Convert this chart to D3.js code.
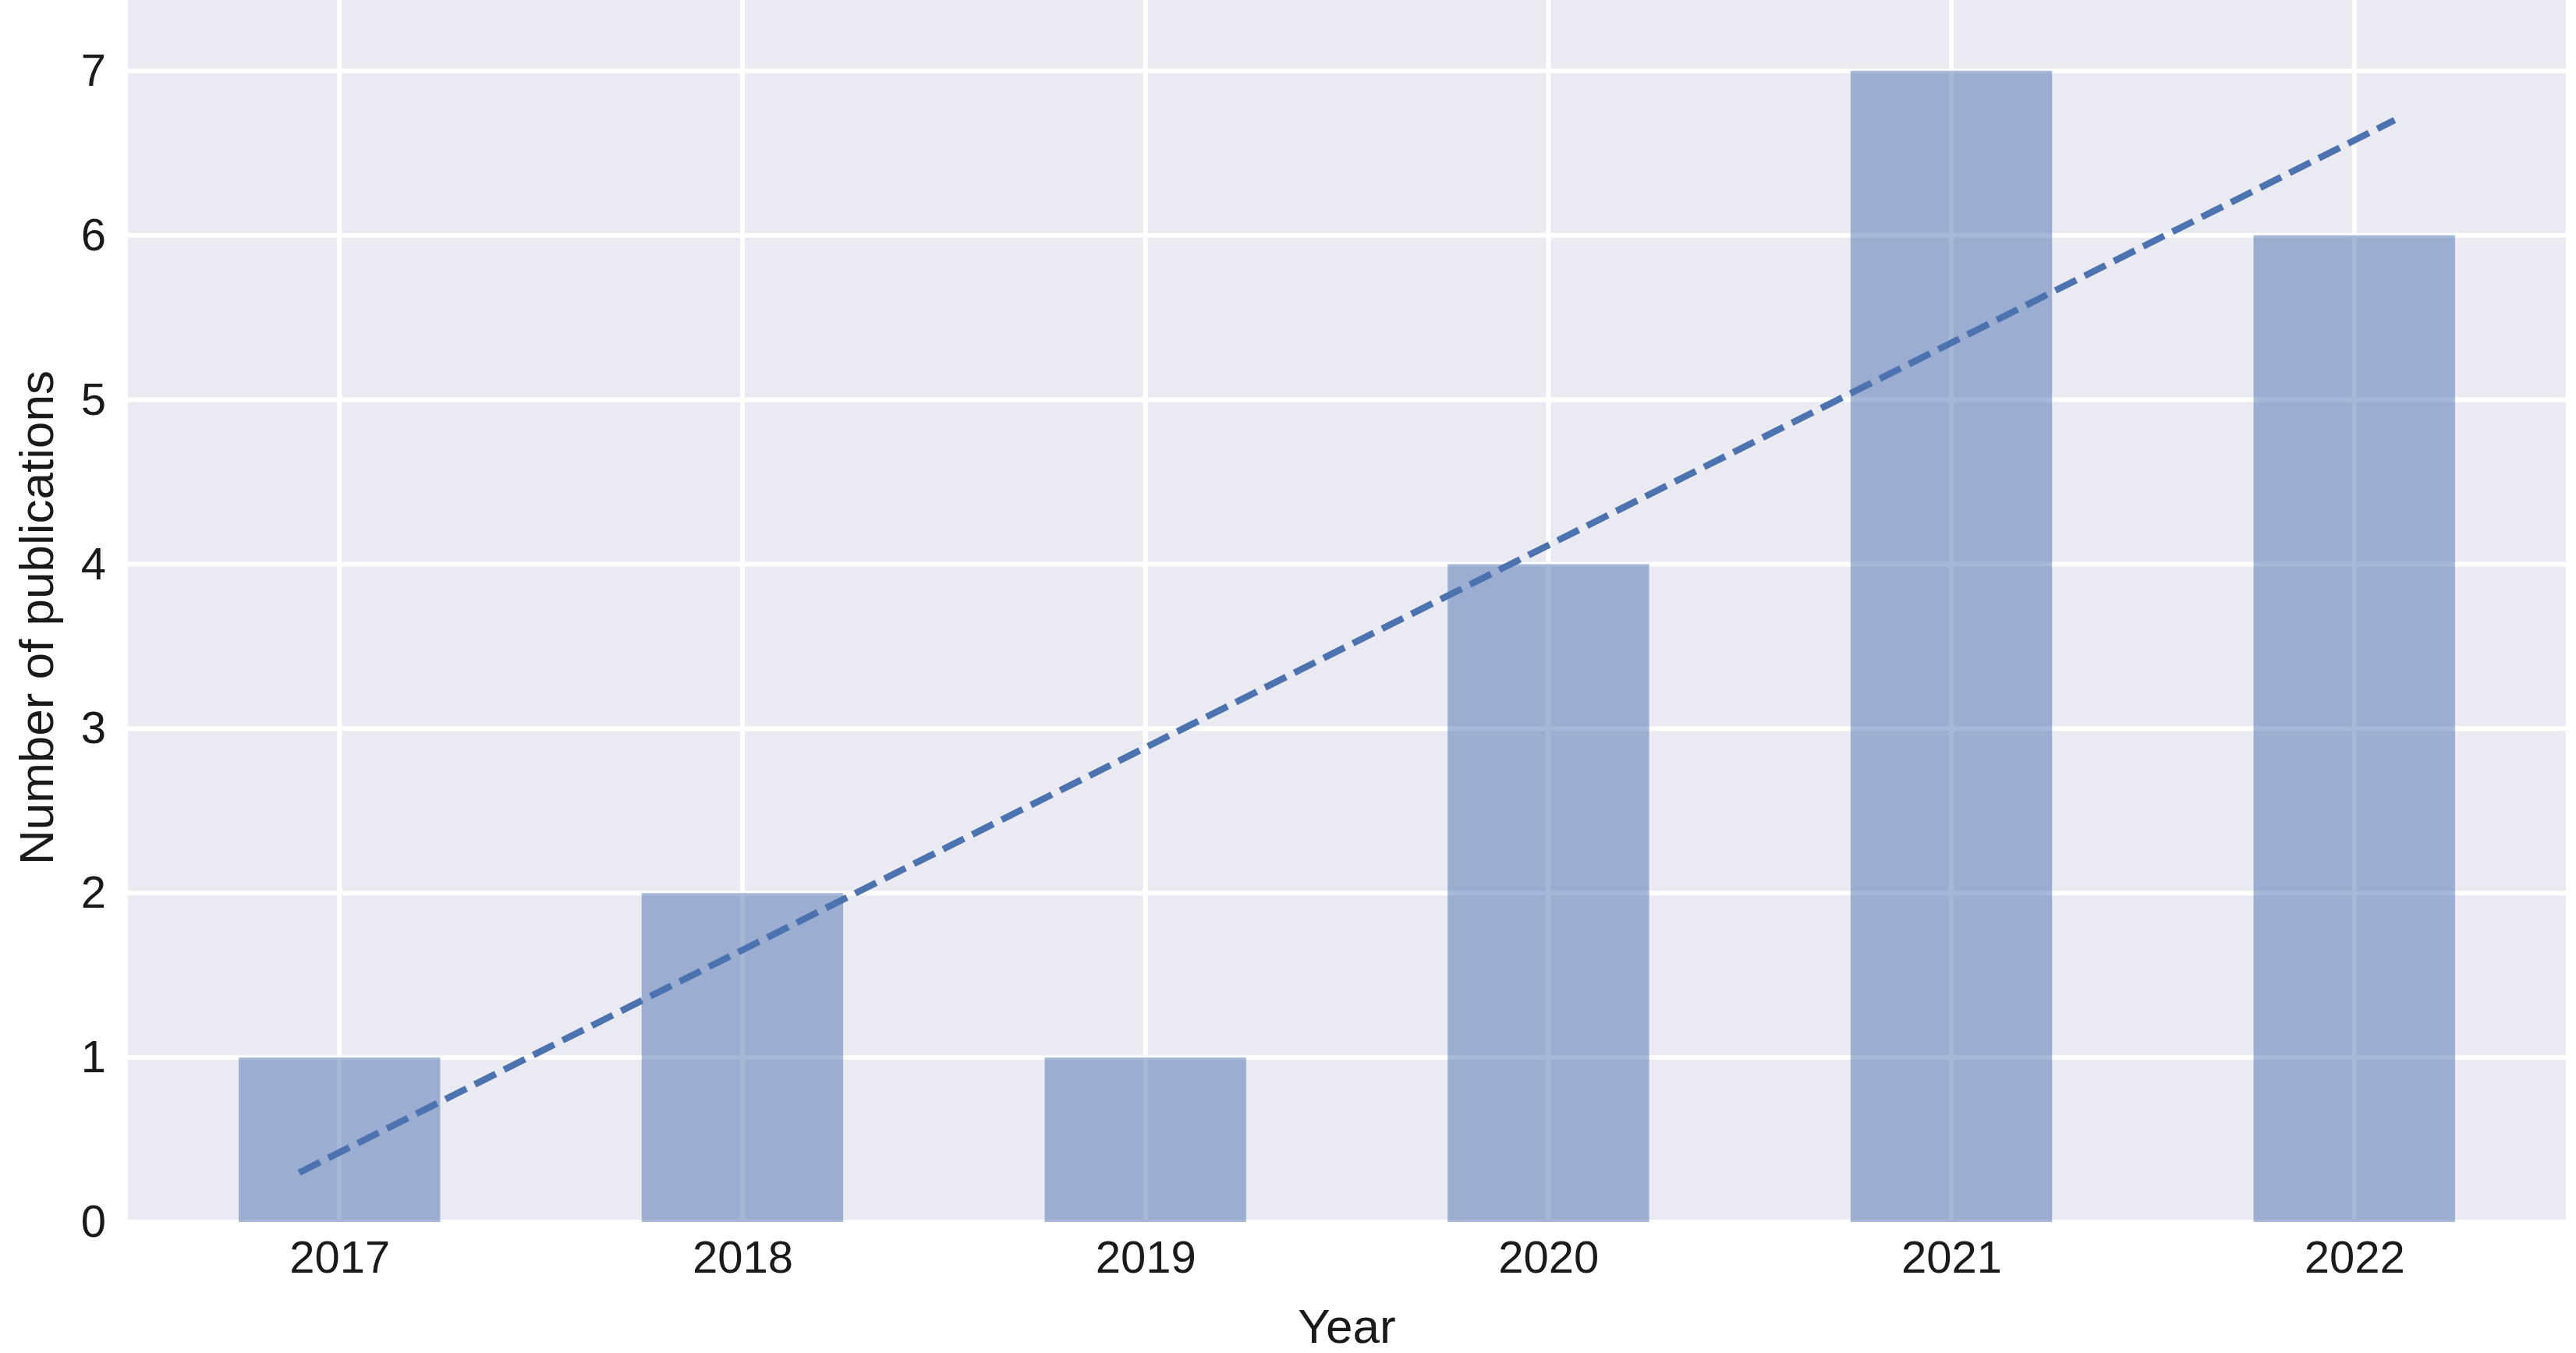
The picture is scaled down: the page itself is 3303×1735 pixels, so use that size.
<!DOCTYPE html>
<html>
<head>
<meta charset="utf-8">
<script src="https://cdn.jsdelivr.net/npm/d3@7"></script>
<style>
  body { margin: 0; background: #fff; }
  text { font-family: "Liberation Sans", Arial, sans-serif; fill: #1a1a1a; }
</style>
</head>
<body>
<div id="chart"></div>
<script>
// data
const years = [2017, 2018, 2019, 2020, 2021, 2022];
const counts = [1, 2, 1, 4, 7, 6];
const yTicks = [0, 1, 2, 3, 4, 5, 6, 7];
// dashed trend line end points
const trendX = [2016.9, 2022.1];
const trendY = [0.3, 6.7];

const W = 3303, H = 1735;
const margin = {top: 17, right: 13, bottom: 168, left: 164};
const width = W - margin.left - margin.right,
      height = H - margin.top - margin.bottom;

const svg = d3.select("#chart").append("svg")
  .attr("width", W).attr("height", H);
const g = svg.append("g")
  .attr("transform", "translate(" + margin.left + "," + margin.top + ")");

let x = d3.scaleLinear().domain([2016.475, 2022.525]).range([0, width]);
let y = d3.scaleLinear().domain([0, 7.35]).range([height, 0]);

g.append("rect").attr("y", -margin.top).attr("width", width).attr("height", height + margin.top).attr("fill", "#eaeaf2");

// grid
g.selectAll(".gy").data(yTicks).enter().append("line")
  .attr("x1", 0).attr("x2", width)
  .attr("y1", d => y(d)).attr("y2", d => y(d))
  .attr("stroke", "#fff").attr("stroke-width", 6);
g.selectAll(".gx").data(years).enter().append("line")
  .attr("y1", -margin.top).attr("y2", height)
  .attr("x1", d => x(d)).attr("x2", d => x(d))
  .attr("stroke", "#fff").attr("stroke-width", 6);

// bars
g.selectAll(".bar").data(years).enter().append("rect")
  .attr("x", d => x(d - 0.25))
  .attr("width", x(2017.5) - x(2017))
  .attr("y", (d, i) => y(counts[i]))
  .attr("height", (d, i) => height - y(counts[i]))
  .attr("fill", "#4c72b0").attr("fill-opacity", 0.5);

// trend
g.append("path")
  .datum(trendX.map((d, i) => [d, trendY[i]]))
  .attr("d", d3.line().x(d => x(d[0])).y(d => y(d[1])))
  .attr("fill", "none").attr("stroke", "#4c72b0")
  .attr("stroke-width", 8.5).attr("stroke-dasharray", "30,12");

// axes
g.append("g").attr("transform", "translate(0," + height + ")")
  .call(d3.axisBottom(x).tickValues(years).tickFormat(d3.format("d")).tickSize(0).tickPadding(24))
  .call(a => a.select(".domain").remove())
  .selectAll("text").style("font-size", "58px");
g.append("g")
  .call(d3.axisLeft(y).tickValues(yTicks).tickSize(0).tickPadding(28))
  .call(a => a.select(".domain").remove())
  .selectAll("text").style("font-size", "58px");

svg.append("text").attr("x", margin.left + width / 2).attr("y", 1722)
  .attr("text-anchor", "middle").style("font-size", "62px").text("Year");
svg.append("text")
  .attr("transform", "translate(68," + (margin.top + height / 2) + ") rotate(-90)")
  .attr("text-anchor", "middle").style("font-size", "62px").text("Number of publications");
</script>
</body>
</html>
